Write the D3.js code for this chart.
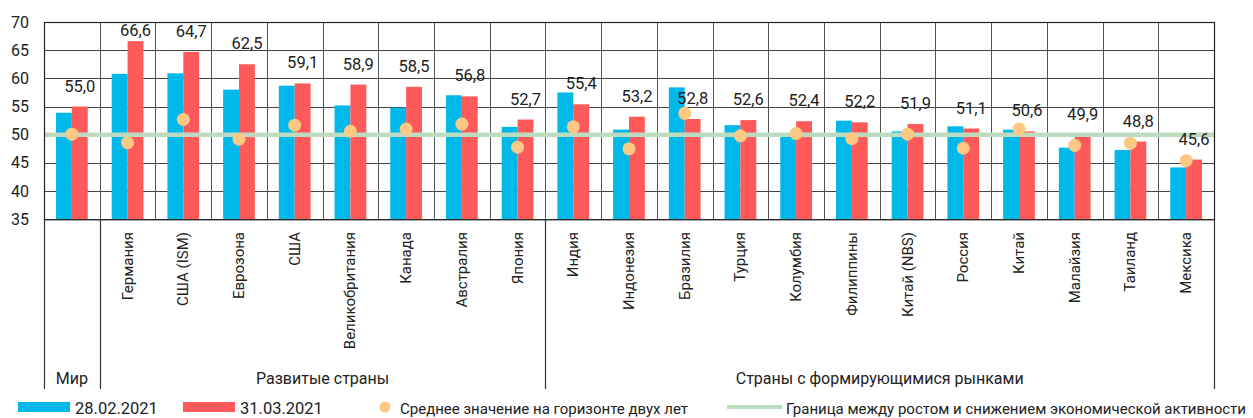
<!DOCTYPE html>
<html>
<head>
<meta charset="utf-8">
<script src="https://cdn.jsdelivr.net/npm/d3@7"></script>
<style>
  body { margin: 0; background: #fff; }
  text { font-family: Roboto, "Noto Sans", sans-serif; fill: #222; }
</style>
</head>
<body>
<div id="chart"></div>
<script>
// chart data
const categories = ["Мир", "Германия", "США (ISM)", "Еврозона", "США", "Великобритания", "Канада", "Австралия", "Япония",
  "Индия", "Индонезия", "Бразилия", "Турция", "Колумбия", "Филиппины", "Китай (NBS)", "Россия", "Китай", "Малайзия", "Таиланд", "Мексика"];
const feb2021 = [53.9, 60.8, 60.9, 58.0, 58.7, 55.2, 54.8, 57.0, 51.4,
  57.5, 50.9, 58.4, 51.7, 50.0, 52.5, 50.6, 51.5, 50.9, 47.7, 47.3, 44.2];
const mar2021 = [55.0, 66.6, 64.7, 62.5, 59.1, 58.9, 58.5, 56.8, 52.7,
  55.4, 53.2, 52.8, 52.6, 52.4, 52.2, 51.9, 51.1, 50.6, 49.9, 48.8, 45.6];
const avg2y = [50.1, 48.6, 52.7, 49.2, 51.7, 50.6, 51.0, 51.9, 47.8,
  51.4, 47.5, 53.8, 49.8, 50.2, 49.3, 50.1, 47.6, 51.0, 48.1, 48.5, 45.4];
const groups = [
  {name: "Мир", from: 0, to: 0},
  {name: "Развитые страны", from: 1, to: 8},
  {name: "Страны с формирующимися рынками", from: 9, to: 20}
];
const yTicks = [35, 40, 45, 50, 55, 60, 65, 70];
const threshold = 50;
const seriesNames = ["28.02.2021", "31.03.2021"];

const W = 1253, H = 418;
const margin = {left: 44, right: 39, top: 22};
const plotBottom = 219.3, groupBottom = 389;
const BLUE = "#00b8ea", RED = "#ff5a5a", DOT = "#fdc883", GREEN = "#bcdbbf";

let svg = d3.select("#chart").append("svg")
  .attr("width", W).attr("height", H);

const X_SCALE = d3.scaleBand()
  .domain(categories)
  .range([margin.left, W - margin.right])
  .padding(0);
const bw = X_SCALE.bandwidth();

const SUB = d3.scaleBand()
  .domain([0, 1])
  .range([bw * 0.215, bw * 0.785]);

const Y_SCALE = d3.scaleLinear()
  .domain([35, 70])
  .range([plotBottom, margin.top]);

// horizontal gridlines
svg.append("g")
  .selectAll("line")
  .data(yTicks)
  .enter().append("line")
  .attr("x1", margin.left).attr("x2", W - margin.right)
  .attr("y1", d => Math.round(Y_SCALE(d)) + 0.5)
  .attr("y2", d => Math.round(Y_SCALE(d)) + 0.5)
  .attr("stroke", "#444").attr("stroke-width", 1);

// vertical gridlines inside plot
svg.append("g")
  .selectAll("line")
  .data(categories.slice(1))
  .enter().append("line")
  .attr("x1", d => Math.round(X_SCALE(d)) + 0.5)
  .attr("x2", d => Math.round(X_SCALE(d)) + 0.5)
  .attr("y1", margin.top).attr("y2", plotBottom)
  .attr("stroke", "#555").attr("stroke-width", 1);

// bars
const barData = [];
categories.forEach((c, i) => {
  barData.push({cat: c, s: 0, v: feb2021[i]});
  barData.push({cat: c, s: 1, v: mar2021[i]});
});
svg.append("g")
  .selectAll("rect")
  .data(barData)
  .enter().append("rect")
  .attr("x", d => X_SCALE(d.cat) + SUB(d.s))
  .attr("width", SUB.bandwidth())
  .attr("y", d => Y_SCALE(d.v))
  .attr("height", d => Y_SCALE(35) - Y_SCALE(d.v))
  .attr("fill", d => d.s === 0 ? BLUE : RED);

// threshold line
svg.append("line")
  .attr("x1", margin.left).attr("x2", W - margin.right)
  .attr("y1", Y_SCALE(threshold)).attr("y2", Y_SCALE(threshold))
  .attr("stroke", GREEN).attr("stroke-width", 4.5);

// 2y average dots
svg.append("g")
  .selectAll("circle")
  .data(avg2y)
  .enter().append("circle")
  .attr("cx", (d, i) => X_SCALE(categories[i]) + bw / 2)
  .attr("cy", d => Y_SCALE(d))
  .attr("r", 6.5)
  .attr("fill", DOT);

// value labels above red bars
svg.append("g")
  .selectAll("text")
  .data(mar2021)
  .enter().append("text")
  .attr("x", (d, i) => X_SCALE(categories[i]) + SUB(1) + SUB.bandwidth() / 2)
  .attr("y", d => Math.max(Y_SCALE(d) - 15, 36))
  .attr("text-anchor", "middle")
  .attr("font-size", 16.5)
  .text(d => d.toFixed(1).replace(".", ","));

// plot frame
svg.append("rect")
  .attr("x", margin.left + 0.5).attr("y", margin.top + 0.5)
  .attr("width", W - margin.right - margin.left)
  .attr("height", plotBottom - margin.top)
  .attr("fill", "none").attr("stroke", "#222").attr("stroke-width", 1.2);

// y axis labels
svg.append("g")
  .selectAll("text")
  .data(yTicks)
  .enter().append("text")
  .attr("x", 29)
  .attr("y", d => Y_SCALE(d) + 5.5)
  .attr("text-anchor", "end")
  .attr("font-size", 16)
  .text(d => d);

// category labels, rotated
svg.append("g")
  .selectAll("text")
  .data(categories.slice(1))
  .enter().append("text")
  .attr("transform", d => "translate(" + (X_SCALE(d) + bw / 2 + 5) + ",232) rotate(-90)")
  .attr("text-anchor", "end")
  .attr("font-size", 15)
  .text(d => d);

// group separators below plot
const sepX = [margin.left, X_SCALE(categories[1]), X_SCALE(categories[9]), W - margin.right];
svg.append("g")
  .selectAll("line")
  .data(sepX)
  .enter().append("line")
  .attr("x1", d => Math.round(d) + 0.5).attr("x2", d => Math.round(d) + 0.5)
  .attr("y1", plotBottom).attr("y2", groupBottom)
  .attr("stroke", "#333").attr("stroke-width", 1.2);

// group names
svg.append("g")
  .selectAll("text")
  .data(groups)
  .enter().append("text")
  .attr("x", d => (X_SCALE(categories[d.from]) + X_SCALE(categories[d.to]) + bw) / 2)
  .attr("y", 384)
  .attr("text-anchor", "middle")
  .attr("font-size", 16)
  .text(d => d.name);

// legend
let legend = svg.append("g");
legend.append("rect").attr("x", 18).attr("y", 402).attr("width", 52).attr("height", 10).attr("fill", BLUE);
legend.append("text").attr("x", 75).attr("y", 414).attr("font-size", 16.5).text(seriesNames[0]);
legend.append("rect").attr("x", 183).attr("y", 402).attr("width", 52).attr("height", 10).attr("fill", RED);
legend.append("text").attr("x", 240).attr("y", 414).attr("font-size", 16.5).text(seriesNames[1]);
legend.append("circle").attr("cx", 385).attr("cy", 407).attr("r", 5.5).attr("fill", DOT);
legend.append("text").attr("x", 400).attr("y", 414).attr("font-size", 15.5)
  .attr("textLength", 288).attr("lengthAdjust", "spacingAndGlyphs")
  .text("Среднее значение на горизонте двух лет");
legend.append("line").attr("x1", 727).attr("x2", 782).attr("y1", 407).attr("y2", 407)
  .attr("stroke", GREEN).attr("stroke-width", 4);
legend.append("text").attr("x", 786).attr("y", 414).attr("font-size", 15)
  .attr("textLength", 460).attr("lengthAdjust", "spacingAndGlyphs")
  .text("Граница между ростом и снижением экономической активности");
</script>
</body>
</html>
